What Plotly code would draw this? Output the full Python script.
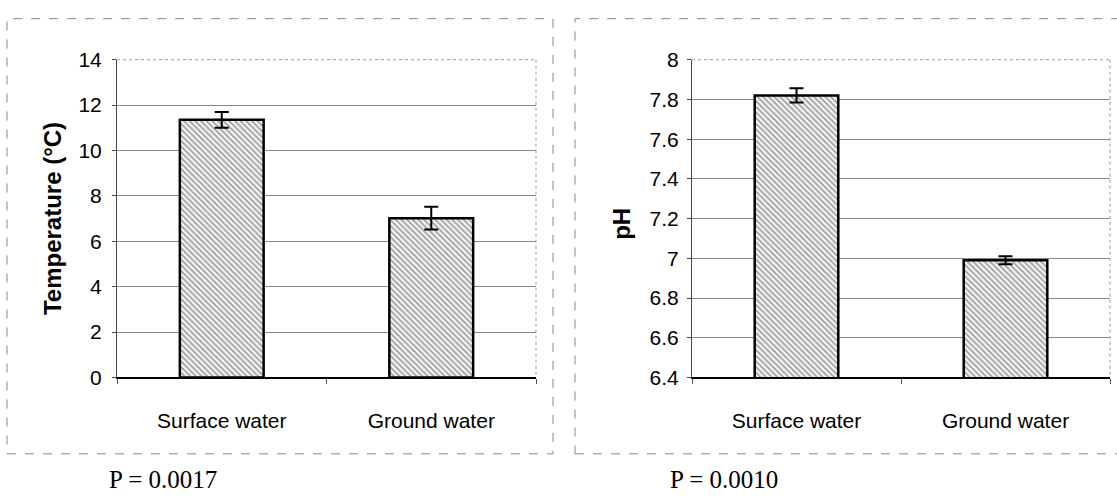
import plotly.graph_objects as go

categories = ["Surface water", "Ground water"]
temp_values = [11.35, 7.02]
temp_errors = [0.35, 0.5]
ph_values = [7.82, 6.99]
ph_errors = [0.036, 0.02]
temp_ticks = [0, 2, 4, 6, 8, 10, 12, 14]
ph_ticks = [6.4, 6.6, 6.8, 7.0, 7.2, 7.4, 7.6, 7.8, 8.0]
ph_ticktext = ["6.4", "6.6", "6.8", "7", "7.2", "7.4", "7.6", "7.8", "8"]
p_texts = ["P = 0.0017", "P = 0.0010"]
y_titles = ["Temperature (°C)", "pH"]

W, H = 1117, 503
SANS = "Liberation Sans, Arial, sans-serif"
SERIF = "Liberation Serif, Times New Roman, serif"

def px(x):
    return x / W

def py(y):
    return (H - y) / H

fig = go.Figure()

bar_style = dict(
    marker=dict(
        color="white",
        line=dict(color="black", width=2.5),
        pattern=dict(shape="\\", size=4, solidity=0.4, fgcolor="#444444", bgcolor="#f4f4f4"),
    ),
    width=0.4,
    showlegend=False,
)

fig.add_trace(go.Bar(x=categories, y=temp_values, xaxis="x", yaxis="y",
                     error_y=dict(type="data", array=temp_errors, color="black", thickness=2, width=7),
                     **bar_style))
fig.add_trace(go.Bar(x=categories, y=ph_values, xaxis="x2", yaxis="y2",
                     error_y=dict(type="data", array=ph_errors, color="black", thickness=2, width=7),
                     **bar_style))

ydom = [py(383), py(50)]
common_x = dict(
    showline=True, linecolor="black", linewidth=2,
    ticks="outside", tickson="boundaries", ticklen=5, tickcolor="#555",
    tickfont=dict(family=SANS, size=21, color="black"),
    ticklabelstandoff=23, showgrid=False, fixedrange=True,
)
common_y = dict(
    showline=True, linecolor="#444", linewidth=1,
    ticks="outside", ticklen=4, tickcolor="#444",
    tickfont=dict(family=SANS, size=21, color="black"),
    showgrid=True, gridcolor="#888888", gridwidth=1, zeroline=False,
)

fig.update_layout(
    width=W, height=H,
    margin=dict(l=0, r=0, t=0, b=0),
    paper_bgcolor="white", plot_bgcolor="white",
    xaxis=dict(domain=[px(117), px(536)], anchor="y", **common_x),
    yaxis=dict(domain=ydom, anchor="x", range=[0, 14], tickvals=temp_ticks,
               ticklabelstandoff=6, **common_y),
    xaxis2=dict(domain=[px(692), px(1110)], anchor="y2", **common_x),
    yaxis2=dict(domain=ydom, anchor="x2", range=[6.4, 8.0], tickvals=ph_ticks,
                ticktext=ph_ticktext, ticklabelstandoff=4, **common_y),
)

shapes = []
for (x0, x1) in [(7, 553), (575, 1125)]:
    shapes.append(dict(type="rect", xref="paper", yref="paper",
                       x0=px(x0), x1=px(x1), y0=py(463), y1=py(7),
                       line=dict(color="#888888", width=1, dash="dash")))
for (x0, x1) in [(117, 536), (692, 1110)]:
    shapes.append(dict(type="line", xref="paper", yref="paper",
                       x0=px(x0), x1=px(x1), y0=py(50), y1=py(50),
                       line=dict(color="#999999", width=1, dash="dot")))
    shapes.append(dict(type="line", xref="paper", yref="paper",
                       x0=px(x1), x1=px(x1), y0=py(50), y1=py(383),
                       line=dict(color="#999999", width=1, dash="dot")))
fig.update_layout(shapes=shapes)

annotations = [
    dict(text="<b>" + y_titles[0] + "</b>", x=px(52), y=py(217), xref="paper", yref="paper",
         textangle=-90, showarrow=False, font=dict(family=SANS, size=24, color="black"),
         xanchor="center", yanchor="middle"),
    dict(text="<b>" + y_titles[1] + "</b>", x=px(622), y=py(222), xref="paper", yref="paper",
         textangle=-90, showarrow=False, font=dict(family=SANS, size=24, color="black"),
         xanchor="center", yanchor="middle"),
    dict(text=p_texts[0], x=px(107), y=py(490), xref="paper", yref="paper",
         showarrow=False, font=dict(family=SERIF, size=25, color="black"),
         xanchor="left", yanchor="middle"),
    dict(text=p_texts[1], x=px(668), y=py(490), xref="paper", yref="paper",
         showarrow=False, font=dict(family=SERIF, size=25, color="black"),
         xanchor="left", yanchor="middle"),
]
fig.update_layout(annotations=annotations)

fig.write_html("out.html")
